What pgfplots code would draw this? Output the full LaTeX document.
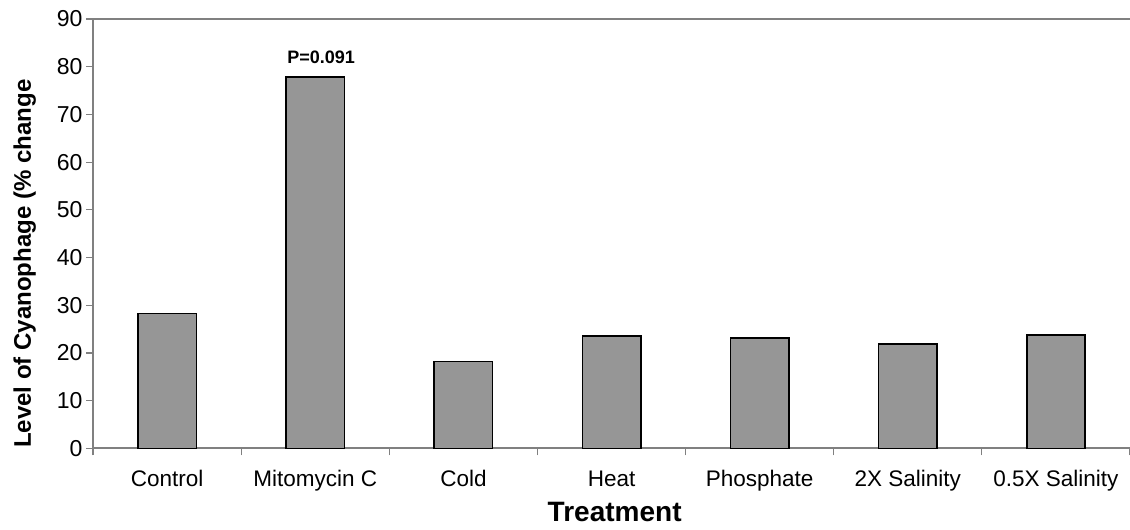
\documentclass[border=0pt]{standalone}
\usepackage{fontspec}
\setmainfont{Liberation Sans}
\usepackage{pgfplots}
\pgfplotsset{compat=1.18}

\definecolor{barfill}{RGB}{150,150,150}
\definecolor{axisgray}{RGB}{128,128,128}

\begin{document}
\begin{tikzpicture}
\begin{axis}[
    scale only axis,
    width=1036pt,
    height=429pt,
    ybar,
    bar width=0.394,
    xmin=-0.5, xmax=6.5,
    ymin=0, ymax=90,
    axis x line*=bottom,
    axis y line*=left,
    axis line style={draw=axisgray, line width=1.8pt, -},
    xtick={0,...,6},
    xticklabels={Control, Mitomycin C, Cold, Heat, Phosphate, 2X Salinity, 0.5X Salinity},
    major x tick style={draw=none},
    minor xtick={-0.5,0.5,...,6.5},
    minor tick length=7pt,
    minor x tick style={draw=axisgray, line width=1.2pt},
    ytick={0,10,...,90},
    major tick length=7pt,
    y tick style={draw=axisgray, line width=1.2pt},
    tick align=outside,
    /pgf/number format/assume math mode=true,
    yticklabel style={font=\fontsize{23}{26}\selectfont},
    xticklabel style={font=\fontsize{22.5}{26}\selectfont, anchor=base, yshift=-31pt},
    xlabel={Treatment},
    xlabel style={font=\bfseries\fontsize{28}{32}\selectfont, at={(axis description cs:0.503,-0.149)}, anchor=center},
    ylabel={Level of Cyanophage (\% change},
    ylabel style={font=\bfseries\fontsize{24}{28}\selectfont, at={(axis description cs:-0.066,0.43)}, anchor=center},
    clip=false,
]
\addplot[fill=barfill, draw=black, line width=1.6pt] coordinates {
    (0,28.3) (1,77.9) (2,18.2) (3,23.6) (4,23.2) (5,21.9) (6,23.8)
};
\draw[axisgray, line width=1.8pt] (rel axis cs:0,1) -- (rel axis cs:1,1);
\node[font=\bfseries\fontsize{18}{20}\selectfont, anchor=base] at (axis cs:1.04,77.9) [yshift=13pt] {P=0.091};
\coordinate (bl) at (rel axis cs:0,0);
\coordinate (tr) at (rel axis cs:1,1);
\end{axis}
\pgfresetboundingbox
\path ([xshift=-93pt,yshift=-81pt]bl) rectangle ([yshift=19pt]tr);
\end{tikzpicture}
\end{document}
